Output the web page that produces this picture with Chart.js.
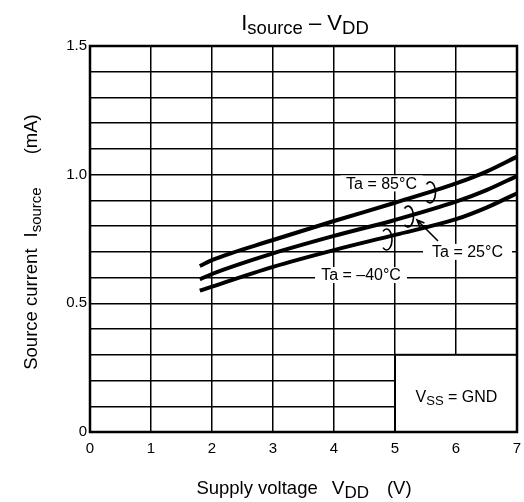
<!DOCTYPE html>
<html>
<head>
<meta charset="utf-8">
<script src="https://cdn.jsdelivr.net/npm/chart.js@4"></script>
<style>
  html, body { margin: 0; padding: 0; background: #fff; }
  canvas { display: block; }
</style>
</head>
<body>
<canvas id="chart" width="524" height="502"></canvas>
<script>
// Supply voltage (V)
const vdd = [1.8, 2, 3, 4, 5, 6, 6.5, 7];
// Source current (mA) for each temperature
const ta85 = [0.645, 0.668, 0.746, 0.82, 0.891, 0.966, 1.012, 1.07];
const ta25 = [0.593, 0.614, 0.694, 0.762, 0.824, 0.895, 0.94, 0.995];
const taM40 = [0.549, 0.565, 0.642, 0.707, 0.766, 0.827, 0.872, 0.928];

const FONT = "'Liberation Sans', Arial, sans-serif";

function pts(ys) {
  return vdd.map((x, i) => ({ x: x, y: ys[i] }));
}

// draw text made of parts (for subscripts), centred on x
function richText(ctx, parts, x, y) {
  let total = 0;
  parts.forEach(p => {
    ctx.font = p.size + "px " + FONT;
    p.w = ctx.measureText(p.t).width;
    total += p.w + (p.gap || 0);
  });
  let cx = x - total / 2;
  ctx.textAlign = "left";
  ctx.textBaseline = "alphabetic";
  parts.forEach(p => {
    cx += p.gap || 0;
    ctx.font = p.size + "px " + FONT;
    ctx.fillText(p.t, cx, y + (p.dy || 0));
    cx += p.w;
  });
}

const labels = [
  { t: "Ta = 85°C", x: 4.779, y: 0.966, w: 82 },
  { t: "Ta = 25°C", x: 6.189, y: 0.700, w: 89 },
  { t: "Ta = –40°C", x: 4.443, y: 0.610, w: 92 },
];
const loops = [
  { x: 5.574, y: 0.931 },
  { x: 5.213, y: 0.837 },
  { x: 4.861, y: 0.748 },
];

const decor = {
  id: "decor",
  beforeDatasetsDraw(chart) {
    const { ctx, chartArea: a, scales: { x, y } } = chart;
    ctx.save();
    ctx.fillStyle = "#fff";
    // label gaps in the grid
    labels.forEach(l => {
      const px = x.getPixelForValue(l.x), py = y.getPixelForValue(l.y);
      ctx.fillRect(px - l.w / 2, py - 8, l.w, 16);
    });
    // VSS box
    const bx = x.getPixelForValue(5), by = y.getPixelForValue(0.3);
    ctx.fillRect(bx, by, a.right - bx, a.bottom - by);
    ctx.strokeStyle = "#000";
    ctx.lineWidth = 2;
    ctx.strokeRect(bx, by, a.right - bx, a.bottom - by);
    ctx.restore();
  },
  afterDatasetsDraw(chart) {
    const { ctx, chartArea: a, scales: { x, y } } = chart;
    ctx.save();
    ctx.fillStyle = "#000";
    ctx.strokeStyle = "#000";
    // curve labels
    ctx.font = "16px " + FONT;
    ctx.textAlign = "center";
    ctx.textBaseline = "middle";
    labels.forEach(l => {
      ctx.fillText(l.t, x.getPixelForValue(l.x), y.getPixelForValue(l.y) + 1);
    });
    // little loops round the curves
    ctx.lineWidth = 1.6;
    loops.forEach(o => {
      ctx.beginPath();
      ctx.ellipse(x.getPixelForValue(o.x), y.getPixelForValue(o.y), 5.5, 10.5, 0, -Math.PI * 0.72, Math.PI * 0.72);
      ctx.stroke();
    });
    // arrow to the 25°C loop
    const x0 = x.getPixelForValue(5.705), y0 = y.getPixelForValue(0.742);
    const x1 = x.getPixelForValue(5.361), y1 = y.getPixelForValue(0.824);
    ctx.beginPath();
    ctx.moveTo(x0, y0);
    ctx.lineTo(x1, y1);
    const ang = Math.atan2(y1 - y0, x1 - x0);
    ctx.moveTo(x1 - 8 * Math.cos(ang - 0.4), y1 - 8 * Math.sin(ang - 0.4));
    ctx.lineTo(x1, y1);
    ctx.lineTo(x1 - 8 * Math.cos(ang + 0.4), y1 - 8 * Math.sin(ang + 0.4));
    ctx.stroke();
    // VSS = GND
    const tx = x.getPixelForValue(6.008), ty = y.getPixelForValue(0.14) + 6;
    richText(ctx, [
      { t: "V", size: 16 },
      { t: "SS", size: 13, dy: 3 },
      { t: " = GND", size: 16 },
    ], tx, ty);
    // frame
    ctx.lineWidth = 2.5;
    ctx.strokeRect(a.left, a.top, a.right - a.left, a.bottom - a.top);
    ctx.restore();
  },
  afterDraw(chart) {
    const { ctx } = chart;
    ctx.save();
    ctx.fillStyle = "#000";
    // title
    richText(ctx, [
      { t: "I", size: 22 },
      { t: "source", size: 18.5, dy: 3.5 },
      { t: " – V", size: 22 },
      { t: "DD", size: 18.5, dy: 3.5 },
    ], 305, 30);
    // x axis title
    richText(ctx, [
      { t: "Supply voltage", size: 18.5 },
      { t: "V", size: 19, gap: 14 },
      { t: "DD", size: 17, dy: 4 },
      { t: "(V)", size: 18.5, gap: 18 },
    ], 304, 494);
    // y axis title
    ctx.translate(37, 242);
    ctx.rotate(-Math.PI / 2);
    richText(ctx, [
      { t: "Source current", size: 18.5 },
      { t: "I", size: 18.5, gap: 11 },
      { t: "source", size: 15, dy: 4 },
      { t: "(mA)", size: 18.5, gap: 33 },
    ], 0, 0);
    ctx.restore();
  },
};

const lineStyle = {
  borderColor: "#000",
  borderWidth: 4,
  pointRadius: 0,
  fill: false,
  cubicInterpolationMode: "monotone",
};

new Chart(document.getElementById("chart"), {
  type: "line",
  data: {
    datasets: [
      Object.assign({ label: "Ta = 85°C", data: pts(ta85) }, lineStyle),
      Object.assign({ label: "Ta = 25°C", data: pts(ta25) }, lineStyle),
      Object.assign({ label: "Ta = -40°C", data: pts(taM40) }, lineStyle),
    ],
  },
  options: {
    responsive: false,
    animation: false,
    devicePixelRatio: 1,
    layout: { padding: { left: 45, right: 7, top: 46, bottom: 40 } },
    plugins: { legend: { display: false }, tooltip: { enabled: false } },
    scales: {
      x: {
        type: "linear",
        min: 0,
        max: 7,
        border: { display: false },
        grid: { color: "#000", lineWidth: 1.5, drawTicks: false },
        ticks: { stepSize: 1, color: "#000", padding: 8, font: { family: FONT, size: 15 } },
        afterFit(scale) {
          scale.height = 30;
          scale.paddingLeft = 0;
          scale.paddingRight = 0;
        },
      },
      y: {
        min: 0,
        max: 1.5,
        border: { display: false },
        grid: { color: "#000", lineWidth: 1.5, drawTicks: false },
        ticks: {
          stepSize: 0.1,
          autoSkip: false,
          color: "#000",
          padding: 3,
          font: { family: FONT, size: 15 },
          callback(v) {
            if (Math.abs(v * 2 - Math.round(v * 2)) > 1e-6) return "";
            return Math.abs(v) < 1e-6 ? "0" : v.toFixed(1);
          },
        },
        afterFit(scale) {
          scale.width = 45;
          scale.paddingTop = 0;
          scale.paddingBottom = 0;
        },
      },
    },
  },
  plugins: [decor],
});
</script>
</body>
</html>
